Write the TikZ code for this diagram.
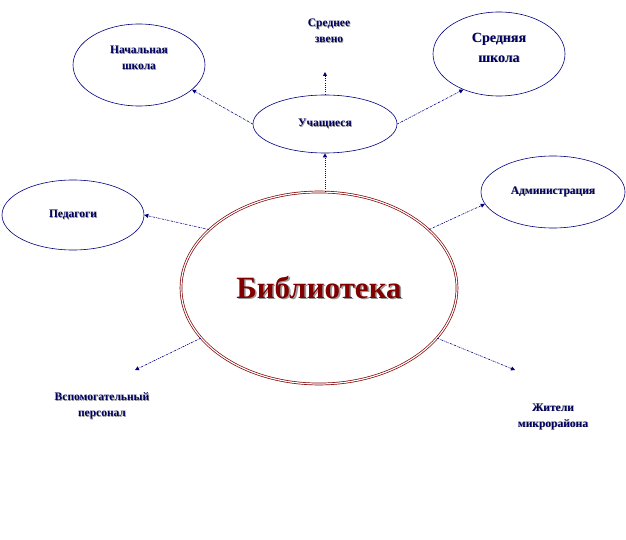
\documentclass[tikz,border=0pt]{standalone}
\usepackage{fontspec}
\setmainfont{Liberation Serif}
\usepackage{xcolor}
\definecolor{libnavy}{HTML}{000080}
\definecolor{libtext}{HTML}{000060}
\definecolor{libred}{HTML}{800000}
\usetikzlibrary{shapes.geometric,arrows.meta,positioning}
\newcommand\shd[2][0.7pt]{\leavevmode\rlap{\kern#1\raisebox{-#1}{\textcolor{black!40}{#2}}}#2}

\begin{document}
\begin{tikzpicture}[x=1pt,y=-1pt,
  ell/.style={ellipse, draw=libnavy, line width=0.6pt, inner sep=0pt,
              align=center, font=\bfseries\fontsize{11.5}{16}\selectfont\color{libtext}},
  lbl/.style={align=center, font=\bfseries\fontsize{11.5}{16}\selectfont\color{libtext}},
  arr/.style={-{Triangle[length=4pt,width=4pt]}, draw=libnavy, line width=0.6pt,
              dash pattern=on 2pt off 1pt on 0.6pt off 1pt},
  dotarr/.style={arr, line width=0.9pt, dash pattern=on 1pt off 1.2pt}
]
  \useasboundingbox (0,0) rectangle (626,540);

  %% centre
  \node[ellipse, draw=libred, double=white, line width=0.7pt, double distance=1.2pt,
        minimum width=276pt, minimum height=192pt, inner sep=0pt,
        font=\bfseries\fontsize{31}{34}\selectfont\color{libred}]
        (lib) at (319,288) {\shd[1.6pt]{Библиотека}};

  %% pupils and schools
  \node[ell, minimum width=144pt, minimum height=58pt] (uch) at (325,124) {\shd{Учащиеся}};
  \node[ell, minimum width=132pt, minimum height=82pt,
        label={[lbl,yshift=7pt]center:{\shd{Начальная}\\\shd{школа}}}] (nach) at (139,65) {};
  \node[ell, minimum width=132pt, minimum height=84pt,
        label={[lbl,yshift=6pt,font=\bfseries\fontsize{14}{20}\selectfont\color{libtext}]center:{\shd{Средняя}\\\shd{школа}}}] (sred) at (499,54) {};
  \node[lbl] (zveno) at (329,31) {\shd{Среднее}\\\shd{звено}};
  \coordinate (zvtip) at (325,72);

  %% other readers
  \node[ell, minimum width=142pt, minimum height=70pt] (ped) at (73,215) {\shd{Педагоги}};
  \node[ell, minimum width=144pt, minimum height=72pt] (adm) at (553,192) {\shd{Администрация}};
  \node[lbl] (vsp) at (102,406) {\shd{Вспомогательный}\\\shd{персонал}};
  \node[lbl] (zhit) at (553,417) {\shd{Жители}\\\shd{микрорайона}};
  \coordinate (vsptip) at (135,370);
  \coordinate (zhtip) at (515,370);

  \draw[dotarr] (lib.north -| uch.south) -- (uch.south);
  \draw[dotarr] (uch.north) -- (zvtip);
  \draw[arr] (uch.west) -- (nach.335);
  \draw[arr] (uch.east) -- (sred.225);
  \draw[arr] (lib.152) -- (ped.east);
  \draw[arr] (lib.28)  -- (adm.190);
  \draw[arr] (lib.203) -- (vsptip);
  \draw[arr] (lib.337) -- (zhtip);
\end{tikzpicture}
\end{document}
